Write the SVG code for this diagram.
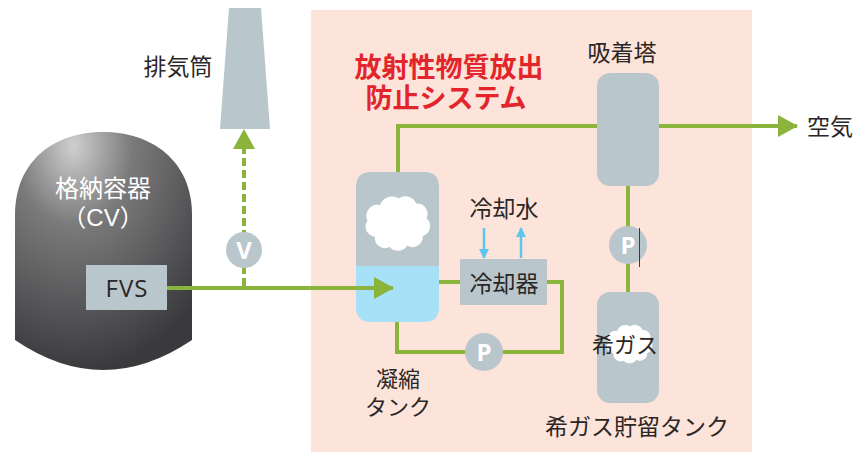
<svg xmlns="http://www.w3.org/2000/svg" xmlns:xlink="http://www.w3.org/1999/xlink" width="857" height="455" viewBox="0 0 857 455">
  <style>
    .jp { font-family: "Liberation Sans", "Noto Sans CJK JP", sans-serif; fill: #2b2626; }
    .title { font-family: "Liberation Sans", "Noto Sans CJK JP", sans-serif; font-weight: 700; fill: #e3242b; font-size: 27px; }
    .part { fill: #b9c6cc; }
    .pipe { fill: none; stroke: #8ab43c; stroke-width: 4; }
    .water { fill: none; stroke: #5ec5ee; stroke-width: 2.5; }
    .badge { font-family: "Open Sans", "Liberation Sans", sans-serif; font-weight: 700; font-size: 24px; fill: #ffffff; }
  </style>
  <defs>
    <radialGradient id="vesselShade" cx="0.33" cy="0.06" r="0.95">
      <stop offset="0" stop-color="#cfcfcf"/>
      <stop offset="0.35" stop-color="#7a7a7b"/>
      <stop offset="0.7" stop-color="#58585a"/>
      <stop offset="1" stop-color="#3a3a3c"/>
    </radialGradient>
    <marker id="greenHead" markerUnits="userSpaceOnUse" markerWidth="20" markerHeight="22" refX="19" refY="11" orient="auto">
      <path d="M0,0 L20,11 L0,22 Z" fill="#8ab43c"/>
    </marker>
    <marker id="blueHead" markerUnits="userSpaceOnUse" markerWidth="10" markerHeight="10" refX="9" refY="5" orient="auto">
      <path d="M0,0 L10,5 L0,10 Z" fill="#5ec5ee"/>
    </marker>
    <symbol id="cloud" viewBox="0 0 100 84">
      <path d="M20,62 A14,14 0 0 1 10,40 A15,15 0 0 1 27,19 A17,17 0 0 1 52,10 A16,16 0 0 1 76,17 A14,14 0 0 1 90,37 A14,14 0 0 1 85,61 A14,14 0 0 1 64,74 A15,15 0 0 1 40,76 A14,14 0 0 1 20,62 Z" fill="#ffffff"/>
    </symbol>
  </defs>

  <!-- background panel for the release-prevention system -->
  <rect x="311" y="10" width="441" height="442" fill="#fce4da"/>

  <!-- containment vessel -->
  <g id="vessel">
    <path d="M15,340 L15,215 C15,160 55,132 103,132 C151,132 192,160 192,215 L192,340 Q103,400 15,340 Z" fill="url(#vesselShade)"/>
    <text class="jp" x="103" y="197" font-size="24" text-anchor="middle" style="fill:#ffffff">格納容器</text>
    <text class="jp" x="103" y="226" font-size="24" text-anchor="middle" style="fill:#ffffff">（CV）</text>
  </g>

  <g id="fvs">
    <rect x="86" y="265" width="81" height="45" class="part"/>
    <text x="127" y="297" font-family="'Open Sans', 'Liberation Sans', sans-serif" font-size="24" letter-spacing="1" text-anchor="middle" fill="#2b2626">FVS</text>
  </g>

  <!-- exhaust stack -->
  <g id="stack">
    <polygon points="229,8 261,8 270,129 220,129" class="part"/>
    <text class="jp" x="178" y="75" font-size="23" text-anchor="middle">排気筒</text>
  </g>

  <!-- title -->
  <g id="title">
    <text class="title" x="449" y="77" text-anchor="middle">放射性物質放出</text>
    <text class="title" x="446" y="108" text-anchor="middle">防止システム</text>
  </g>

  <!-- condensing tank -->
  <g id="condensing-tank">
    <path d="M371,172 L424,172 Q439,172 439,187 L439,266 L356,266 L356,187 Q356,172 371,172 Z" class="part"/>
    <path d="M356,266 L439,266 L439,307 Q439,322 424,322 L371,322 Q356,322 356,307 Z" fill="#a6e1f8"/>
    <use href="#cloud" x="360" y="191" width="74" height="62"/>
    <text class="jp" x="398" y="387" font-size="22" text-anchor="middle">凝縮</text>
    <text class="jp" x="398" y="415" font-size="22" text-anchor="middle">タンク</text>
  </g>

  <!-- cooler -->
  <g id="cooler">
    <rect x="460" y="259" width="87" height="46" class="part"/>
    <text class="jp" x="504" y="292" font-size="23" text-anchor="middle">冷却器</text>
    <text class="jp" x="504" y="217" font-size="23" text-anchor="middle">冷却水</text>
  </g>

  <!-- adsorption tower -->
  <g id="adsorption-tower">
    <rect x="597" y="73" width="62" height="113" rx="13" class="part"/>
    <text class="jp" x="622" y="61" font-size="23" text-anchor="middle">吸着塔</text>
  </g>

  <!-- noble gas storage tank -->
  <g id="noble-gas-tank">
    <rect x="597" y="292" width="62" height="111" rx="13" class="part"/>
    <use href="#cloud" x="603" y="319" width="52" height="48"/>
    <text class="jp" x="625" y="353" font-size="22" text-anchor="middle">希ガス</text>
    <text class="jp" x="637" y="435" font-size="23" text-anchor="middle">希ガス貯留タンク</text>
  </g>

  <g id="air">
    <text class="jp" x="830" y="135" font-size="23" text-anchor="middle">空気</text>
  </g>

  <!-- piping -->
  <g id="connectors">
    <path class="pipe" d="M167,288 L393,288" marker-end="url(#greenHead)"/>
    <path class="pipe" d="M244,286 L244,130" stroke-dasharray="8,4" marker-end="url(#greenHead)"/>
    <path class="pipe" d="M398,172 L398,126 L597,126"/>
    <path class="pipe" d="M659,126 L797,126" marker-end="url(#greenHead)"/>
    <path class="pipe" d="M628,186 L628,292"/>
    <path class="pipe" d="M439,282 L460,282"/>
    <path class="pipe" d="M547,282 L562,282 L562,352 L397,352 L397,322"/>
    <path class="water" d="M484,228 L484,258" marker-end="url(#blueHead)"/>
    <path class="water" d="M521,258 L521,228" marker-end="url(#blueHead)"/>
  </g>

  <!-- valve and pumps -->
  <g id="valve-v">
    <circle cx="244" cy="250" r="18" class="part"/>
    <text class="badge" x="244" y="259" text-anchor="middle">V</text>
  </g>
  <g id="pump-cooling">
    <circle cx="484" cy="352" r="19" class="part"/>
    <text class="badge" x="484" y="361" text-anchor="middle">P</text>
  </g>
  <g id="pump-gas">
    <circle cx="628" cy="245" r="19" class="part"/>
    <text class="badge" x="628" y="254" text-anchor="middle">P</text>
    <line x1="639.5" y1="228" x2="639.5" y2="267" stroke="#3a3a3a" stroke-width="1"/>
  </g>
</svg>
